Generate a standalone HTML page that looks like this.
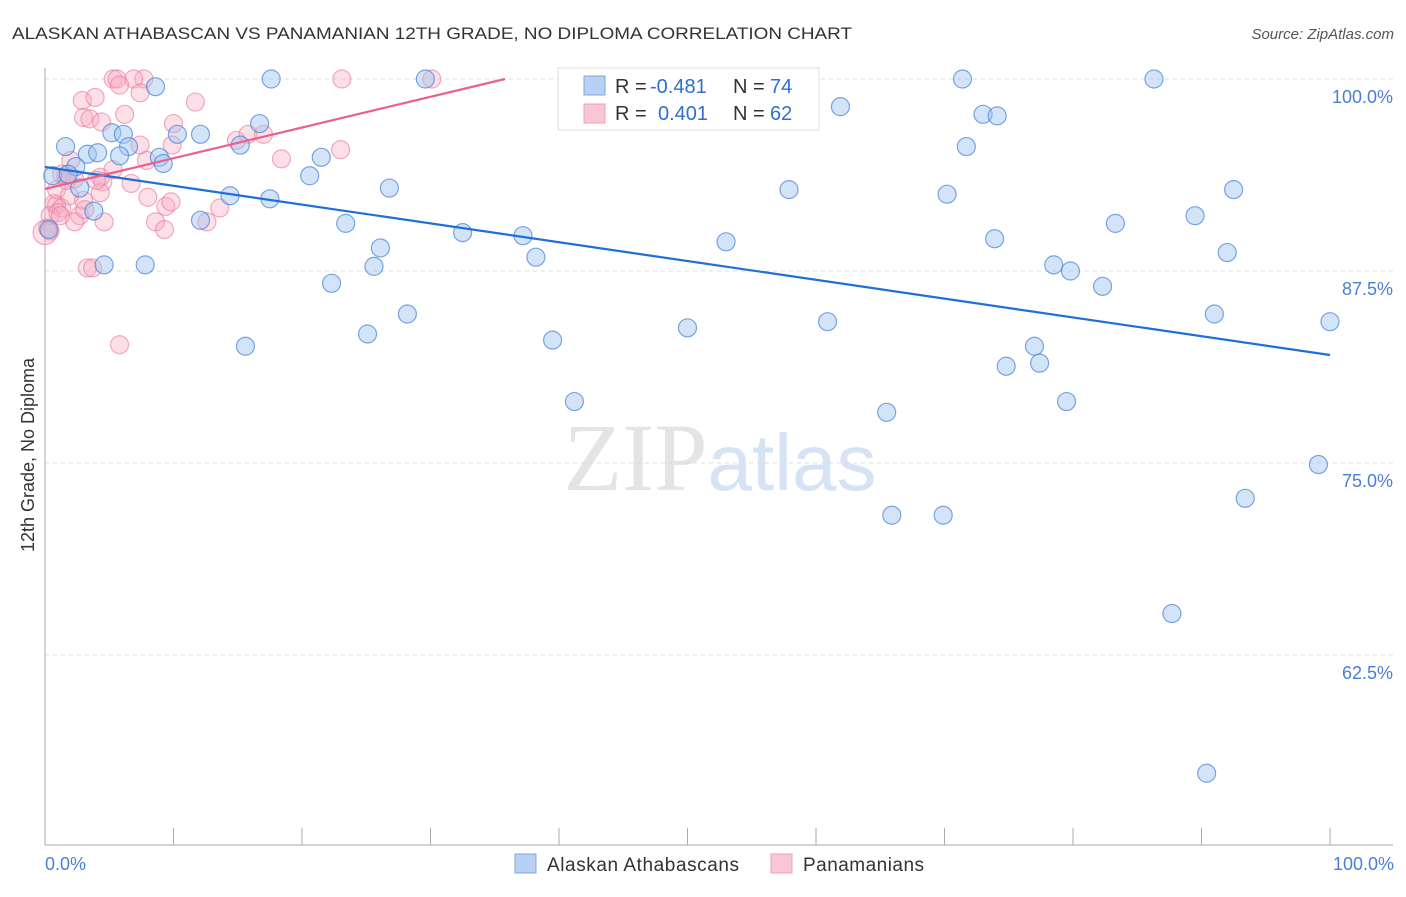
<!DOCTYPE html>
<html><head><meta charset="utf-8"><style>
body{margin:0;background:#fff;font-family:"Liberation Sans",sans-serif;}
svg text{font-family:"Liberation Sans",sans-serif;}
</style></head><body>
<svg id="chart" width="1406" height="892" xmlns="http://www.w3.org/2000/svg">
<text x="12" y="39" font-size="17" fill="#333" textLength="840" lengthAdjust="spacingAndGlyphs">ALASKAN ATHABASCAN VS PANAMANIAN 12TH GRADE, NO DIPLOMA CORRELATION CHART</text>
<text x="1394" y="39" font-size="15" fill="#555" text-anchor="end" font-style="italic">Source: ZipAtlas.com</text>
<text x="720" y="490" font-size="96" text-anchor="middle" fill="#e4e4e4" font-family="Liberation Serif"><tspan font-family="Liberation Serif">ZIP</tspan><tspan fill="#d6e3f4" font-family="Liberation Sans" font-size="80">atlas</tspan></text>
<g id="grid"></g>
<g id="axes"></g>
<g id="pts"></g>
<g id="lines"></g>
<text transform="translate(34,455) rotate(-90)" font-size="18" fill="#333" text-anchor="middle">12th Grade, No Diploma</text>
<text x="45" y="870" font-size="18" fill="#4a7fd6">0.0%</text>
<text x="1394" y="870" font-size="18" fill="#4a7fd6" text-anchor="end">100.0%</text>
<g>
<rect x="558" y="68" width="261" height="62" fill="#fff" stroke="#ddd"/>
<rect x="584" y="76" width="21" height="19" fill="#b7d0f3" stroke="#7fa7e0"/>
<rect x="584" y="104" width="21" height="19" fill="#f9c6d4" stroke="#eda0b8"/>
<text x="615" y="93" font-size="20" fill="#333">R = <tspan fill="#2f6fd0" x="650">-0.481</tspan><tspan x="733">N = </tspan><tspan fill="#2f6fd0" x="770">74</tspan></text>
<text x="615" y="120" font-size="20" fill="#333">R = <tspan fill="#2f6fd0" x="658">0.401</tspan><tspan x="733">N = </tspan><tspan fill="#2f6fd0" x="770">62</tspan></text>
</g>
<g>
<rect x="515" y="854" width="21" height="19" fill="#b7d0f3" stroke="#7fa7e0"/>
<text x="547" y="871" font-size="19" fill="#333" textLength="192">Alaskan Athabascans</text>
<rect x="771" y="854" width="21" height="19" fill="#f9c6d4" stroke="#eda0b8"/>
<text x="803" y="871" font-size="19" fill="#333" textLength="121">Panamanians</text>
</g>
</svg>
<script>
const yTicks=[100,87.5,75,62.5];
const yTickLabels=["100.0%","87.5%","75.0%","62.5%"];
const blueX=[8.6,17.6,29.6,71.4,86.3,61.9,73.0,74.1,16.7,5.2,6.1,10.3,12.1,1.6,6.5,15.2,71.7,3.3,4.1,5.8,8.9,9.2,21.5,2.4,0.6,1.8,20.6,2.7,26.8,57.9,92.5,70.2,14.4,17.5,3.8,12.1,89.5,23.4,83.3,32.5,37.2,0.3,73.9,53.0,26.1,92.0,38.2,4.6,7.8,25.6,78.5,79.8,22.3,82.3,28.2,91.0,60.9,50.0,100,25.1,39.5,15.6,77.0,74.8,77.4,41.2,79.5,65.5,99.1,93.4,65.9,69.9,87.7,90.4];
const blueY=[99.5,100,100,100,100,98.2,97.7,97.6,97.1,96.5,96.4,96.4,96.4,95.6,95.6,95.7,95.6,95.1,95.2,95.0,94.9,94.5,94.9,94.3,93.7,93.8,93.7,92.9,92.9,92.8,92.8,92.5,92.4,92.2,91.4,90.8,91.1,90.6,90.6,90.0,89.8,90.2,89.6,89.4,89.0,88.7,88.4,87.9,87.9,87.8,87.9,87.5,86.7,86.5,84.7,84.7,84.2,83.8,84.2,83.4,83.0,82.6,82.6,81.3,81.5,79.0,79.0,78.3,74.9,72.7,71.6,71.6,65.2,54.8];
const pinkX=[5.3,5.6,7.7,6.9,23.1,30.1,41.6,5.8,7.4,2.9,3.9,11.7,6.2,3.0,3.5,4.4,10.0,9.9,7.4,14.9,15.8,17.0,7.9,2.0,18.4,23.0,4.3,6.7,1.6,2.3,4.5,4.3,8.0,0.7,0.9,1.3,3.0,9.4,9.8,13.6,0.4,1.0,2.7,2.3,4.6,8.6,9.3,12.6,0.2,0.4,3.3,3.7,5.8,0.9,1.9,1.3,5.3,1.2,1.7,4.0,3.1,0];
const pinkY=[100,100,100,100,100,100,100,99.6,99.1,98.6,98.8,98.5,97.7,97.5,97.4,97.2,97.1,95.7,95.7,96.0,96.4,96.4,94.7,94.7,94.8,95.4,93.6,93.2,93.7,93.5,93.3,92.6,92.3,91.9,91.8,91.6,92.1,91.7,92.0,91.6,91.1,91.3,91.1,90.7,90.7,90.7,90.2,90.7,90.3,90.1,87.7,87.7,82.7,92.8,92.4,93.8,94.1,91.1,93.4,93.4,91.5,90.0];
const blueTrend=[94.27,82.03];   // y at x=0 and x=100
const pinkTrend=[92.84,100,35.8]; // y at x=0, y end, x end
const NS="http://www.w3.org/2000/svg";
const X=v=>45+v*12.85;
const Y=v=>79+(100-v)/12.5*192;
function mk(tag,attrs,parent){const e=document.createElementNS(NS,tag);for(const k in attrs)e.setAttribute(k,attrs[k]);parent.appendChild(e);return e;}
const grid=document.getElementById('grid'),axes=document.getElementById('axes'),pts=document.getElementById('pts'),lines=document.getElementById('lines');
yTicks.forEach((t,i)=>{
 const l=mk('line',{x1:45,x2:1393,y1:Y(t),y2:Y(t),stroke:'#dcdcdc','stroke-dasharray':'4,4'},grid);
 
 
 const tx=mk('text',{x:1393,y:Y(t)+24,'font-size':18,fill:'#4a7fd6','text-anchor':'end'},grid);
 tx.textContent=yTickLabels[i];
 
 
});
const ya=mk('line',{x1:45,x2:45,y1:68,y2:845,stroke:'#aaa'},axes);


const xa=mk('line',{x1:45,x2:1393,y1:845,y2:845,stroke:'#aaa'},axes);


for(let i=0;i<=10;i++){
 const t=mk('line',{x1:X(i*10),x2:X(i*10),y1:828,y2:845,stroke:'#aaa'},axes);
 
 
}
pinkX.forEach((x,i)=>{
 const c=mk('circle',{cx:X(x),cy:Y(pinkY[i]),r:i===pinkX.length-1?12:9,fill:'rgba(246,170,192,0.38)',stroke:'rgba(232,120,155,0.6)','stroke-width':1.2},pts);
 
 
});
blueX.forEach((x,i)=>{
 const c=mk('circle',{cx:X(x),cy:Y(blueY[i]),r:9,fill:'rgba(160,195,240,0.45)',stroke:'rgba(70,130,215,0.7)','stroke-width':1.2},pts);
 
 
});
const bl=mk('line',{x1:X(0),y1:Y(blueTrend[0]),x2:X(100),y2:Y(blueTrend[1]),stroke:'#1f6fd6','stroke-width':2.2},lines);


const pl=mk('line',{x1:X(0),y1:Y(pinkTrend[0]),x2:X(pinkTrend[2]),y2:Y(pinkTrend[1]),stroke:'#e8628b','stroke-width':2.2},lines);


</script>
</body></html>
